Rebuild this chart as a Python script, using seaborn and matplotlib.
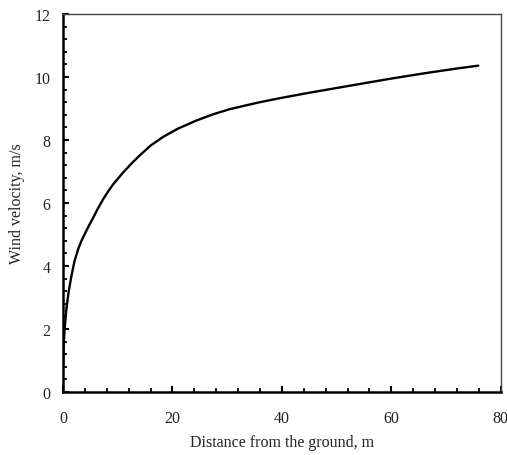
import matplotlib
matplotlib.use("Agg")
import matplotlib.pyplot as plt
import seaborn as sns
import pandas as pd
from matplotlib.ticker import MultipleLocator

# Data
distance = [0.02, 0.15, 0.3, 0.6, 1.0, 1.5, 2.1, 2.8, 3.42, 4.5, 5.54, 6.4,
            7.37, 8.3, 9.2, 11.0, 12.5, 13.95, 16.0, 18.3, 21.0, 24.4, 27.5,
            30.5, 35.7, 40.0, 45.0, 50.0, 54.3, 60.0, 66.5, 72.0, 75.9]
velocity = [0.8, 1.6, 2.0, 2.6, 3.15, 3.65, 4.15, 4.55, 4.82, 5.2, 5.54, 5.83,
            6.13, 6.38, 6.60, 6.97, 7.25, 7.50, 7.82, 8.10, 8.36, 8.62, 8.82,
            8.98, 9.19, 9.34, 9.50, 9.65, 9.78, 9.95, 10.13, 10.27, 10.36]
x_ticks = [0, 20, 40, 60, 80]
y_ticks = [0, 2, 4, 6, 8, 10, 12]
x_label = "Distance from the ground, m"
y_label = "Wind velocity, m/s"

sns.set_style("white")
plt.rcParams['font.family'] = ['Liberation Serif', 'DejaVu Serif']

df = pd.DataFrame({"distance": distance, "velocity": velocity})

fig = plt.figure(figsize=(5.07, 4.56), dpi=100)
ax = fig.add_axes([63/507, 1-393/456, (500.7-63)/507, (393-15)/456])

sns.lineplot(data=df, x="distance", y="velocity", ax=ax, color="black",
             linewidth=1.7, estimator=None, sort=False)

ax.set_xlim(0, 80)
ax.set_ylim(0, 12)
ax.set_xticks(x_ticks)
ax.set_yticks(y_ticks)
ax.xaxis.set_minor_locator(MultipleLocator(4))
ax.yaxis.set_minor_locator(MultipleLocator(0.4))
ax.tick_params(axis="both", which="both", direction="in", colors="black",
               labelcolor="#222222", labelsize=11.5)
ax.tick_params(axis="x", which="major", length=4, width=1.5, pad=13, bottom=True)
ax.tick_params(axis="y", which="major", length=4, width=1.5, pad=9, left=True)
ax.tick_params(axis="x", which="minor", length=3, width=1.3, bottom=True)
ax.tick_params(axis="y", which="minor", length=3, width=1.3, left=True)

for side in ["left", "bottom"]:
    ax.spines[side].set_linewidth(1.8)
    ax.spines[side].set_color("black")
for side in ["top", "right"]:
    ax.spines[side].set_linewidth(1.0)
    ax.spines[side].set_color("#444444")
    ax.spines[side].set_visible(True)

ax.set_xlabel(x_label, fontsize=11.5, color="#222222", labelpad=6)
ax.set_ylabel(y_label, fontsize=11.5, color="#222222", labelpad=7)

fig.savefig("out.png", dpi=100)
